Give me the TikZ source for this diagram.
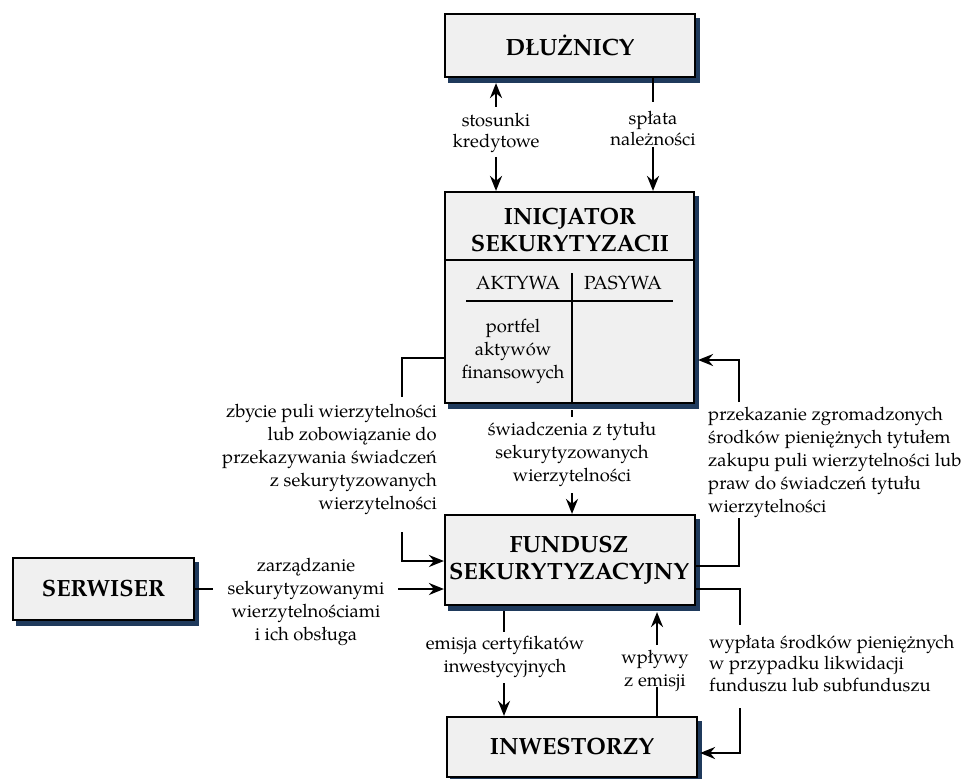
\documentclass[tikz,border=0pt]{standalone}
\usepackage{fontspec}
\setmainfont{TeX Gyre Pagella}
\usetikzlibrary{arrows.meta,shadows}
\definecolor{boxfill}{HTML}{F0F0F0}
\definecolor{shadowc}{HTML}{1F3A5C}
\tikzset{
  box/.style={draw=black, line width=2.2pt, fill=boxfill, inner sep=0pt,
    copy shadow={shadow xshift=4pt, shadow yshift=-5pt, fill=shadowc, draw=shadowc}},
  title/.style={font=\fontsize{23.5}{27}\selectfont\bfseries, align=center},
  lbl/.style={font=\fontsize{18.4}{23}\selectfont, inner sep=0pt},
  conn/.style={line width=2.2pt},
  arr/.style={conn, -{Stealth[length=15pt,width=12pt,inset=5pt]}},
  thin/.style={line width=2pt}
}
\begin{document}
\begin{tikzpicture}[x=1pt,y=-1pt]
\useasboundingbox (0,0) rectangle (965,778);
% boxes
\node[box, minimum width=250pt, minimum height=63pt] (dl) at (570,45.5) {};
\node[title] (dlt) at (dl.center) {DŁUŻNICY};
\node[box, minimum width=249pt, minimum height=211pt] (ini) at (569.5,297.5) {};
\node[title] (init) at (570,230) {INICJATOR\\SEKURYTYZACII};
\node[box, minimum width=250pt, minimum height=90pt] (fun) at (570,560) {};
\node[title] (funt) at (569,560) {FUNDUSZ\\SEKURYTYZACYJNY};
\node[box, minimum width=181pt, minimum height=62pt] (ser) at (103.5,589) {};
\node[title] (sert) at (ser.center) {SERWISER};
\node[box, minimum width=250pt, minimum height=60pt] (inw) at (572,747) {};
\node[title] (inwt) at (inw.center) {INWESTORZY};
% balance sheet inside INICJATOR
\draw[thin] (ini.west |- 0,260) -- (ini.east |- 0,260);
\coordinate (tv) at (572,273);
\draw[thin] (tv) -- (tv |- ini.south);
\draw[thin] (466,301) -- (673,301);
\node[lbl, font=\fontsize{19}{23}\selectfont] (akt) at (518,283) {AKTYWA};
\node[lbl, font=\fontsize{19}{23}\selectfont] (pas) at (623,283) {PASYWA};
\node[lbl, align=center] (port) at (513,351) {portfel\\aktywów\\finansowych};
% labels
\node[lbl, align=center, font=\fontsize{18.4}{21}\selectfont] (l1) at (496,133) {stosunki\\kredytowe};
\node[lbl, align=center, font=\fontsize{18.4}{21}\selectfont] (l2) at (653,128.5) {spłata\\należności};
\node[lbl, align=right, anchor=east] (l3) at (437,459) {zbycie puli wierzytelności\\lub zobowiązanie do\\przekazywania świadczeń\\z sekurytyzowanych\\wierzytelności};
\node[lbl, align=center] (l4) at (572,454) {świadczenia z tytułu\\sekurytyzowanych\\wierzytelności};
\node[lbl, align=left, anchor=west] (l5) at (708,462) {przekazanie zgromadzonych\\środków pieniężnych tytułem\\zakupu puli wierzytelności lub\\praw do świadczeń tytułu\\wierzytelności};
\node[lbl, align=center] (l6) at (306,602) {zarządzanie\\sekurytyzowanymi\\wierzytelnościami\\i ich obsługa};
\node[lbl, align=center] (l7) at (505,657) {emisja certyfikatów\\inwestycyjnych};
\node[lbl, align=center] (l8) at (655,671) {wpływy\\z emisji};
\node[lbl, align=left, anchor=west, font=\fontsize{18.4}{21.5}\selectfont] (l9) at (709,663) {wypłata środków pieniężnych\\w przypadku likwidacji\\funduszu lub subfunduszu};
% connectors DŁUŻNICY - INICJATOR
\coordinate (a1) at (496,107);
\coordinate (a2) at (496,157);
\draw[arr, shorten >=5pt] (a1) -- (a1 |- dl.south);
\draw[arr] (a2) -- (a2 |- ini.north);
\coordinate (b1) at (653,102);
\coordinate (b2) at (653,147);
\draw[conn] (b1 |- dl.south) -- (b1);
\draw[arr] (b2) -- (b2 |- ini.north);
% zbycie
\coordinate (c1) at (402,358);
\coordinate (c2) at (402,397);
\coordinate (c3) at (402,532);
\coordinate (c4) at (402,561);
\draw[conn] (ini.west |- c1) -- (c1) -- (c2);
\draw[arr] (c3) -- (c4) -- (fun.west |- c4);
% swiadczenia
\coordinate (d1) at (572,410);
\coordinate (d2) at (572,417);
\coordinate (d3) at (572,493);
\draw[conn] (d1) -- (d2);
\draw[arr] (d3) -- (d3 |- fun.north);
% przekazanie
\coordinate (e1) at (739,566);
\coordinate (e2) at (739,518);
\coordinate (e3) at (739,402);
\coordinate (e4) at (739,360);
\draw[conn] (fun.east |- e1) -- (e1) -- (e2);
\draw[arr, shorten >=3pt] (e3) -- (e4) -- (ini.east |- e4);
% serwiser
\coordinate (f1) at (213,589);
\coordinate (f2) at (398,589);
\draw[conn] (ser.east |- f1) -- (f1);
\draw[arr] (f2) -- (fun.west |- f2);
% emisja
\coordinate (g1) at (504,611);
\coordinate (g2) at (504,632);
\coordinate (g3) at (504,683);
\draw[conn] (g1) -- (g2);
\draw[arr] (g3) -- (g3 |- inw.north);
% wplywy
\coordinate (h1) at (657,687);
\coordinate (h2) at (657,645);
\draw[conn] (h1 |- inw.north) -- (h1);
\draw[arr, shorten >=6pt] (h2) -- (h2 |- fun.south);
% wyplata
\coordinate (k1) at (740,589);
\coordinate (k2) at (740,625);
\coordinate (k3) at (740,708);
\coordinate (k4) at (740,753);
\draw[conn] (fun.east |- k1) -- (k1) -- (k2);
\draw[arr, shorten >=2pt] (k3) -- (k4) -- (inw.east |- k4);
\end{tikzpicture}
\end{document}
